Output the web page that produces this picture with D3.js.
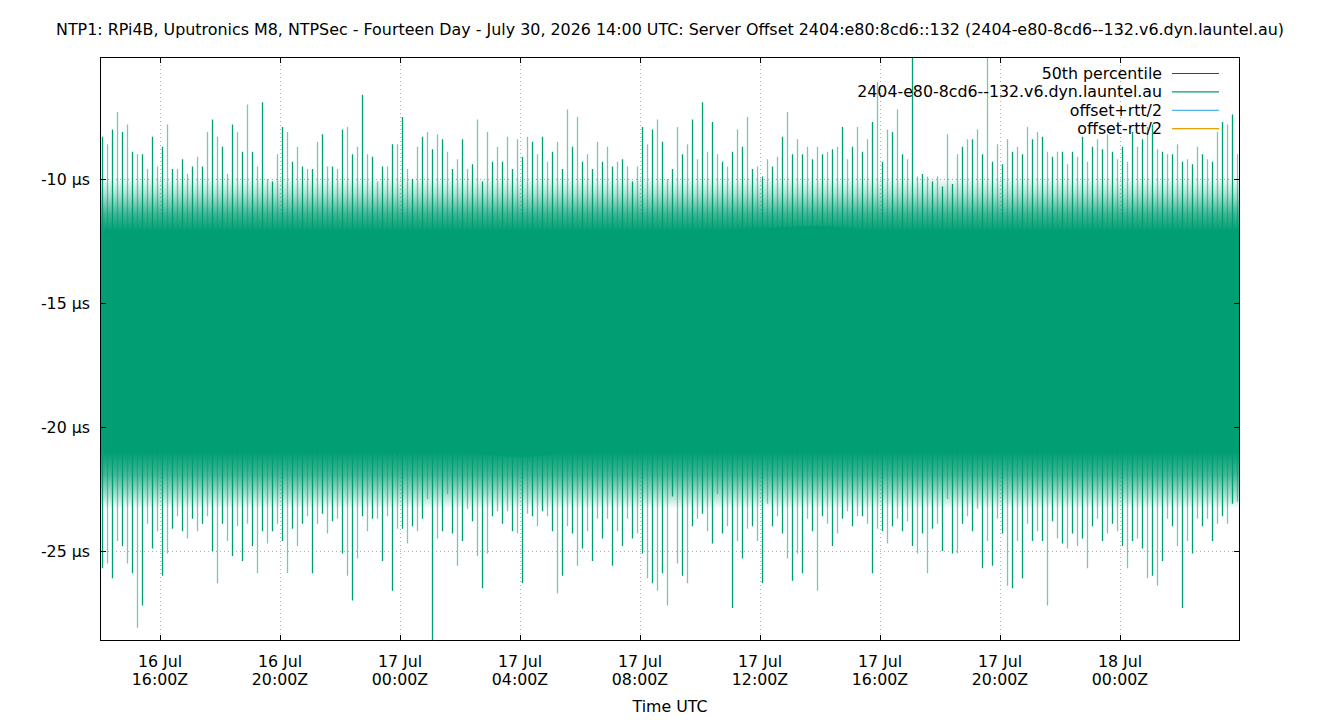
<!DOCTYPE html>
<html>
<head>
<meta charset="utf-8">
<script src="https://cdn.jsdelivr.net/npm/d3@7"></script>
<style>
  body { margin: 0; background: #fff; }
  text { font-family: "DejaVu Sans", sans-serif; fill: #000; }
</style>
</head>
<body>
<svg id="svg" width="1340" height="720"></svg>
<script>
// 10 minute bins, first bin starts 16 Jul 14:00Z
var binStart = '2026-07-16T14:00:00Z';
var binMinutes = 10;

// highest offset seen in each bin (µs)
var spikeHigh = [
  -8.3,-8.6,-8.0,-7.3,-8.1,-7.8,-8.9,-9.0,-9.0,-9.6,-8.3,-9.5,-8.7,-7.8,-9.6,-9.6,-9.2,-9.8,-9.5,-9.1,
  -9.5,-8.1,-7.6,-8.3,-8.7,-9.8,-7.8,-8.1,-8.9,-7.0,-8.9,-9.5,-6.9,-10.0,-10.1,-9.0,-7.9,-8.1,-9.3,-8.7,
  -9.5,-9.6,-9.6,-8.5,-8.2,-9.5,-9.5,-9.6,-8.0,-7.9,-9.0,-8.7,-6.6,-9.0,-9.1,-10.1,-9.5,
  -9.5,-8.6,-8.6,-7.5,-9.6,-10.0,-8.7,-8.3,-8.1,-8.8,-8.2,-8.4,-8.9,-9.6,-9.2,-8.4,-9.6,-9.4,-7.6,-10.1,
  -8.1,-9.3,-8.7,-9.3,-8.3,-9.6,-8.4,-9.1,-8.3,-8.5,-9.0,-8.3,-9.3,-8.9,-8.5,-9.6,-7.2,-8.7,-7.5,-9.3,
  -9.0,-9.6,-8.5,-9.3,-8.7,-9.5,-9.3,-9.2,-9.5,-10.1,-9.5,-7.9,-8.6,-8.0,-7.6,-8.5,-10.0,
  -9.6,-7.9,-9.0,-8.6,-7.6,-9.2,-6.9,-8.9,-7.7,-9.0,-9.3,-9.5,-8.9,-8.0,-8.7,-7.5,-9.6,-9.5,-9.9,-9.2,
  -9.5,-9.1,-8.3,-7.3,-9.0,-8.4,-9.0,-8.7,-9.2,-8.7,-9.0,-8.9,-8.8,-8.7,-7.9,-9.2,-8.7,-7.9,-8.9,-8.4,
  -7.7,-6.1,-9.3,-8.0,-8.1,-7.2,-9.0,-9.2,-5.0,-9.9,-9.8,-9.9,-10.1,-9.9,-10.3,-8.2,-10.2,
  -9.0,-8.7,-8.4,-8.4,-8.0,-9.0,-5.0,-9.3,-8.6,-9.4,-8.4,-8.9,-8.7,-9.0,-7.9,-8.4,-8.1,-8.3,-8.9,-9.1,
  -8.9,-8.9,-9.4,-8.9,-9.1,-8.3,-9.3,-8.7,-8.4,-8.8,-8.2,-8.9,-9.2,-8.7,-9.3,-8.1,-8.7,-8.4,-7.9,-7.8,
  -8.8,-8.9,-9.0,-9.0,-8.6,-9.3,-9.2,-9.4,-8.7,-9.0,-9.2,-9.3,-8.1,-7.7,-7.8,-7.4,-9.0
];

// lowest offset seen in each bin (µs)
var spikeLow = [
  -25.7,-25.5,-26.1,-24.6,-24.8,-25.5,-25.9,-28.1,-27.2,-23.9,-24.9,-24.2,-26.0,-25.1,-24.1,-23.6,-24.2,-24.5,-23.7,-24.2,
  -23.9,-23.6,-25.0,-26.3,-23.9,-24.6,-25.2,-24.0,-25.4,-23.9,-24.8,-25.9,-24.2,-24.7,-24.2,-23.9,-24.6,-25.9,-24.1,-24.8,
  -23.9,-23.6,-25.9,-23.9,-23.5,-24.3,-23.8,-23.7,-25.1,-26.0,-27.0,-25.3,-23.6,-24.2,-23.7,-23.7,-25.4,
  -23.6,-26.6,-24.1,-24.1,-24.7,-24.0,-24.2,-23.7,-22.9,-28.7,-24.5,-24.2,-22.7,-24.3,-25.6,-24.6,-23.3,-23.8,-25.2,-26.5,
  -25.1,-23.6,-23.4,-23.9,-23.4,-24.2,-24.3,-26.3,-23.5,-23.6,-24.0,-23.4,-23.6,-24.2,-26.7,-26.0,-24.0,-24.3,-25.6,-24.9,
  -24.2,-25.4,-23.7,-24.5,-23.7,-25.6,-24.2,-24.8,-23.7,-24.5,-24.3,-25.1,-26.1,-26.3,-26.6,-25.9,-27.2,
  -22.8,-25.5,-26.0,-26.3,-24.0,-23.7,-23.5,-24.2,-24.7,-22.7,-24.3,-24.0,-27.3,-24.6,-25.3,-24.1,-24.0,-24.6,-26.3,-23.1,
  -24.0,-23.6,-24.3,-25.3,-26.2,-25.1,-25.9,-23.7,-24.2,-26.6,-23.6,-23.9,-24.8,-24.3,-23.7,-23.4,-24.0,-23.6,-23.6,-23.9,
  -25.9,-24.1,-24.2,-24.7,-24.0,-23.7,-24.2,-23.8,-24.8,-25.1,-24.3,-25.9,-24.1,-23.9,-25.0,-22.9,-25.1,
  -25.1,-23.9,-23.6,-24.2,-23.3,-25.7,-24.6,-25.6,-23.7,-24.3,-26.4,-26.5,-24.6,-26.1,-23.9,-24.6,-24.2,-24.6,-27.2,-23.8,
  -24.5,-24.7,-24.9,-24.3,-24.8,-24.5,-25.7,-24.0,-23.7,-24.6,-24.3,-23.9,-24.2,-24.8,-25.7,-24.6,-24.5,-24.9,-26.1,-26.0,
  -26.4,-25.4,-23.7,-24.0,-24.8,-27.3,-24.6,-25.1,-23.7,-24.0,-23.7,-24.6,-23.9,-23.6,-23.9,-23.1,-23.0
];

// envelope of the dense part, one value every 2 hours from 14:00Z
var bandHours = [0,2,4,6,8,10,12,14,16,18,20,22,24,26,28,30,32,34,36,38];
var coreTop   = [-12.8,-12.6,-12.4,-12.5,-12.3,-12.4,-12.2,-12.1,-12.3,-12.2,-12.1,-12.0,-11.9,-12.2,-12.5,-12.4,-12.3,-12.2,-12.4,-12.5];
var coreBot   = [-20.4,-20.6,-20.5,-20.4,-20.7,-20.9,-21.0,-21.2,-21.0,-20.9,-20.8,-20.9,-20.8,-20.6,-20.7,-20.8,-20.9,-20.7,-20.6,-20.5];
var fringeTop = [-9.6,-9.7,-9.6,-9.9,-9.7,-9.5,-9.6,-9.6,-9.7,-9.5,-9.4,-9.5,-9.3,-9.6,-9.8,-9.6,-9.5,-9.6,-9.4,-9.5];
var fringeBot = [-23.4,-23.6,-23.5,-23.4,-23.7,-23.8,-23.9,-24.0,-23.8,-23.7,-23.6,-23.7,-23.6,-23.5,-23.6,-23.8,-23.9,-23.7,-23.5,-23.4];

// 50th percentile of the offset
var p50 = -17.2;

var yTicks = [-10, -15, -20, -25];
var legendNames = ['50th percentile', '2404-e80-8cd6--132.v6.dyn.launtel.au', 'offset+rtt/2', 'offset-rtt/2'];
var legendColors = ['#9400d3', '#009e73', '#56b4e9', '#e69f00'];

(function() {
    'use strict';

    var svg = d3.select('#svg');
    var left = 100, right = 1240, top = 57, bottom = 641;
    var green = '#009e73';

    var t0 = new Date(binStart);
    var t1 = d3.utcHour.offset(t0, 38);

    var x = d3.scaleUtc().domain([t0, t1]).range([left, right]);
    var y = d3.scaleLinear().domain([-28.63, -5.08]).range([bottom, top]);

    var defs = svg.append('defs');
    defs.append('clipPath').attr('id', 'plot')
        .append('rect')
        .attr('x', left).attr('y', top)
        .attr('width', right - left).attr('height', bottom - top);

    // the loose band thins out away from the middle
    var grad = defs.append('linearGradient').attr('id', 'fade')
        .attr('gradientUnits', 'userSpaceOnUse')
        .attr('x1', 0).attr('x2', 0).attr('y1', top).attr('y2', bottom);
    [[-9.9, 0], [-10.6, 0.3], [-11.4, 0.75], [-12.1, 1], [-21.0, 1], [-21.9, 0.75], [-22.8, 0.3], [-23.3, 0]].forEach(function (s) {
        grad.append('stop')
            .attr('offset', (y(s[0]) - top) / (bottom - top))
            .attr('stop-color', green)
            .attr('stop-opacity', s[1]);
    });

    // dotted grid
    var grid = svg.append('g').attr('stroke', '#b0b0b0').attr('stroke-width', 1).attr('stroke-dasharray', '1,3');
    var xTicks = d3.utcHour.every(4).range(d3.utcHour.offset(t0, 2), t1);
    grid.selectAll('.gx').data(xTicks).enter().append('line')
        .attr('x1', function (d) { return Math.round(x(d)) + 0.5; })
        .attr('x2', function (d) { return Math.round(x(d)) + 0.5; })
        .attr('y1', top).attr('y2', bottom);
    grid.selectAll('.gy').data(yTicks).enter().append('line')
        .attr('x1', left).attr('x2', right)
        .attr('y1', function (d) { return Math.round(y(d)) + 0.5; })
        .attr('y2', function (d) { return Math.round(y(d)) + 0.5; });

    var plot = svg.append('g').attr('clip-path', 'url(#plot)');

    // percentile line first, the offset data is drawn over it
    plot.append('line')
        .attr('x1', left).attr('x2', right)
        .attr('y1', y(p50)).attr('y2', y(p50))
        .attr('stroke', legendColors[0]);

    var hourX = function (h) { return x(d3.utcHour.offset(t0, h)); };

    // loose outer band, then the solid middle
    plot.append('path')
        .datum(bandHours)
        .attr('fill', 'url(#fade)')
        .attr('d', d3.area()
            .curve(d3.curveMonotoneX)
            .x(function (h) { return hourX(h); })
            .y0(function (h, i) { return y(fringeBot[i]); })
            .y1(function (h, i) { return y(fringeTop[i]); }));

    plot.append('path')
        .datum(bandHours)
        .attr('fill', green)
        .attr('d', d3.area()
            .curve(d3.curveMonotoneX)
            .x(function (h) { return hourX(h); })
            .y0(function (h, i) { return y(coreBot[i]); })
            .y1(function (h, i) { return y(coreTop[i]); }));

    // one vertical stroke per bin, from the lowest to the highest sample
    plot.selectAll('.spike')
        .data(spikeHigh)
        .enter()
        .append('line')
        .attr('class', 'spike')
        .attr('x1', function (d, i) { return x(d3.utcMinute.offset(t0, i * binMinutes + binMinutes / 2)); })
        .attr('x2', function (d, i) { return x(d3.utcMinute.offset(t0, i * binMinutes + binMinutes / 2)); })
        .attr('y1', function (d) { return y(d); })
        .attr('y2', function (d, i) { return y(spikeLow[i]); })
        .attr('stroke', green)
        .attr('stroke-width', 1.3)
        .attr('stroke-opacity', function (d, i) { return i % 2 ? 0.55 : 1; });

    // frame
    svg.append('rect')
        .attr('x', left + 0.5).attr('y', top + 0.5)
        .attr('width', right - left - 1).attr('height', bottom - top - 1)
        .attr('fill', 'none').attr('stroke', '#000');

    // inward ticks on all four sides
    var tick = svg.append('g').attr('stroke', '#000');
    xTicks.forEach(function (d) {
        var px = Math.round(x(d)) + 0.5;
        tick.append('line').attr('x1', px).attr('x2', px).attr('y1', bottom).attr('y2', bottom - 6);
        tick.append('line').attr('x1', px).attr('x2', px).attr('y1', top).attr('y2', top + 6);
    });
    yTicks.forEach(function (d) {
        var py = Math.round(y(d)) + 0.5;
        tick.append('line').attr('x1', left).attr('x2', left + 6).attr('y1', py).attr('y2', py);
        tick.append('line').attr('x1', right).attr('x2', right - 6).attr('y1', py).attr('y2', py);
    });

    var fs = '15.8px';

    // y labels
    svg.selectAll('.ylab').data(yTicks).enter().append('text')
        .attr('x', left - 10)
        .attr('y', function (d) { return y(d); })
        .attr('dy', '0.35em')
        .attr('text-anchor', 'end')
        .style('font-size', fs)
        .text(function (d) { return d + ' µs'; });

    // x labels, two lines
    var dayFmt = d3.utcFormat('%-d %b');
    var hourFmt = d3.utcFormat('%H:%MZ');
    var xl = svg.selectAll('.xlab').data(xTicks).enter().append('text')
        .attr('text-anchor', 'middle')
        .style('font-size', fs);
    xl.append('tspan')
        .attr('x', function (d) { return x(d); })
        .attr('y', bottom + 26)
        .text(function (d) { return dayFmt(d); });
    xl.append('tspan')
        .attr('x', function (d) { return x(d); })
        .attr('y', bottom + 44)
        .text(function (d) { return hourFmt(d); });

    svg.append('text')
        .attr('x', (left + right) / 2).attr('y', 712)
        .attr('text-anchor', 'middle')
        .style('font-size', fs)
        .text('Time UTC');

    svg.append('text')
        .attr('x', 670).attr('y', 35)
        .attr('text-anchor', 'middle')
        .style('font-size', '15.9px')
        .text('NTP1: RPi4B, Uputronics M8, NTPSec - Fourteen Day - July 30, 2026 14:00 UTC: Server Offset 2404:e80:8cd6::132 (2404-e80-8cd6--132.v6.dyn.launtel.au)');

    // legend, text right aligned with a short line sample
    var lg = svg.append('g').selectAll('g')
        .data(legendNames)
        .enter()
        .append('g')
        .attr('transform', function (d, i) { return 'translate(0,' + (73.5 + i * 18.4) + ')'; });
    lg.append('text')
        .attr('x', 1162)
        .attr('dy', '0.35em')
        .attr('text-anchor', 'end')
        .style('font-size', fs)
        .text(function (d) { return d; });
    lg.append('line')
        .attr('x1', 1172).attr('x2', 1219)
        .attr('stroke', function (d, i) { return legendColors[i]; })
        .attr('stroke-width', 1.2);
})();
</script>
</body>
</html>
